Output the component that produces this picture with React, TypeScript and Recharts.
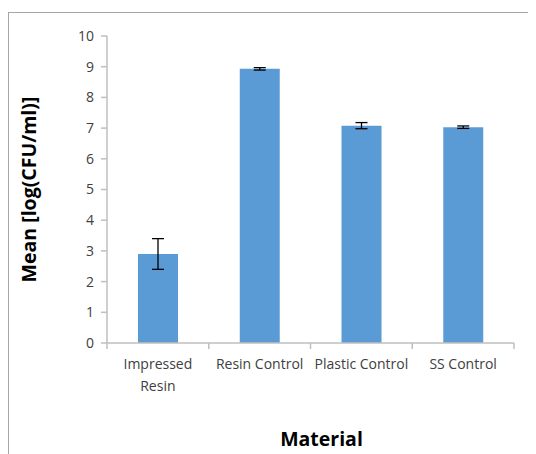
import React from "react";
import { BarChart, Bar, XAxis, YAxis, ErrorBar } from "recharts";

const categories = ["Impressed\nResin", "Resin Control", "Plastic Control", "SS Control"];
const means = [2.9, 8.93, 7.08, 7.03];
const errors = [0.5, 0.04, 0.1, 0.04];
const yTicks = [0, 1, 2, 3, 4, 5, 6, 7, 8, 9, 10];

const data = categories.map((name, i) => ({ name, mean: means[i], err: errors[i] }));

const AXIS = "#bfbfbf";
const TXT = "#404040";
const FONT = "'Open Sans', sans-serif";

const XTick = (props: any) => {
  const { x, y, payload, index } = props;
  const off = payload && typeof payload.offset === "number" ? payload.offset : 0;
  const lines = String(payload.value).split("\n");
  return (
    <g>
      <line x1={x - off} y1={y} x2={x - off} y2={y + 6} stroke={AXIS} strokeWidth={1.5} />
      {index === categories.length - 1 && (
        <line x1={x + off} y1={y} x2={x + off} y2={y + 6} stroke={AXIS} strokeWidth={1.5} />
      )}
      <text x={x} y={y + 26} textAnchor="middle" fill={TXT} fontSize={14} fontFamily={FONT}>
        {lines.map((l, i) => (
          <tspan key={i} x={x} dy={i === 0 ? 0 : 22}>
            {l}
          </tspan>
        ))}
      </text>
    </g>
  );
};

const YLabel = (props: any) => {
  const vb = props.viewBox || {};
  const cx = 20;
  const cy = vb.y + vb.height / 2;
  return (
    <text
      x={cx}
      y={cy}
      transform={`rotate(-90 ${cx} ${cy})`}
      textAnchor="middle"
      dominantBaseline="central"
      fontSize={19.5}
      fontWeight="bold"
      fill="#000"
      fontFamily={FONT}
    >
      Mean [log(CFU/ml)]
    </text>
  );
};

const XLabel = (props: any) => {
  const vb = props.viewBox || {};
  const cx = vb.x + vb.width / 2 + 11;
  const cy = vb.y + 95;
  return (
    <text
      x={cx}
      y={cy}
      textAnchor="middle"
      dominantBaseline="central"
      fontSize={19.5}
      fontWeight="bold"
      fill="#000"
      fontFamily={FONT}
    >
      Material
    </text>
  );
};

export default function App() {
  return (
    <div style={{ position: "relative", width: 528, height: 446, overflow: "hidden" }}>
      <div
        style={{
          position: "absolute",
          left: 0,
          top: 4,
          width: 700,
          height: 700,
          borderTop: "1px solid #a6a6a6",
          borderLeft: "1px solid #a6a6a6",
        }}
      />
      <div style={{ position: "absolute", left: 0, top: 0 }}>
        <BarChart
          width={528}
          height={446}
          data={data}
          margin={{ top: 28, right: 22, left: 0, bottom: 0 }}
          barSize={40}
        >
          <XAxis
            dataKey="name"
            height={111}
            axisLine={{ stroke: AXIS, strokeWidth: 1.5 }}
            tickLine={false}
            tickSize={0}
            tickMargin={0}
            tick={<XTick />}
            interval={0}
            label={<XLabel />}
          />
          <XAxis
            xAxisId="top"
            dataKey="name"
            orientation="top"
            height={0}
            tick={false}
            tickLine={false}
            axisLine={{ stroke: AXIS, strokeWidth: 1.5 }}
          />
          <YAxis
            width={99}
            domain={[0, 10]}
            ticks={yTicks}
            interval={0}
            axisLine={{ stroke: AXIS, strokeWidth: 1.5 }}
            tickLine={{ stroke: AXIS, strokeWidth: 1.5 }}
            tickSize={6}
            tickMargin={7}
            tick={{ fill: TXT, fontSize: 14, fontFamily: FONT }}
            label={<YLabel />}
          />
          <YAxis
            yAxisId="right"
            orientation="right"
            width={0}
            domain={[0, 10]}
            tick={false}
            tickLine={false}
            axisLine={{ stroke: AXIS, strokeWidth: 1.5 }}
          />
          <Bar dataKey="mean" fill="#5b9bd5" isAnimationActive={false}>
            <ErrorBar dataKey="err" width={6} stroke="#000" strokeWidth={1.3} isAnimationActive={false} />
          </Bar>
        </BarChart>
      </div>
    </div>
  );
}
